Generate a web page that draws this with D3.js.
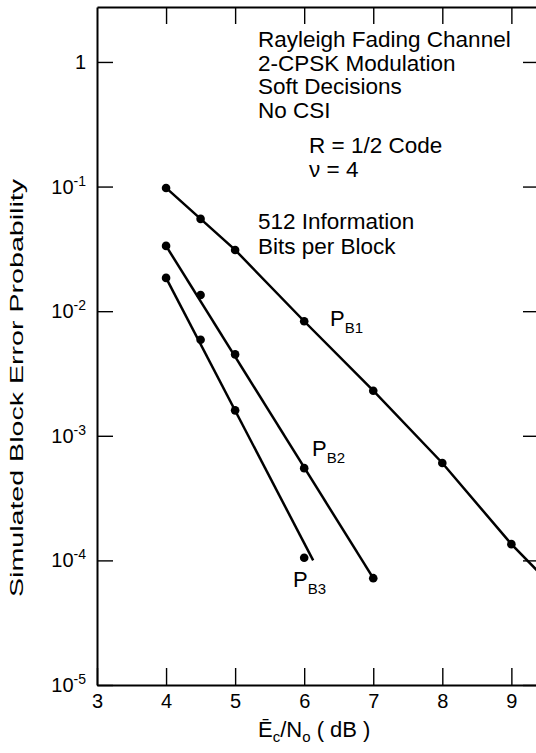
<!DOCTYPE html>
<html>
<head>
<meta charset="utf-8">
<script src="https://cdn.jsdelivr.net/npm/d3@7"></script>
<style>
  body { margin: 0; background: #fff; }
  svg { display: block; font-family: "Liberation Sans", Arial, sans-serif; }
</style>
</head>
<body>
<div id="chart"></div>
<script>
// values
const xTicks = [3, 4, 5, 6, 7, 8, 9];
const yTicks = [1, 1e-1, 1e-2, 1e-3, 1e-4, 1e-5];
const yTickExp = ['', '-1', '-2', '-3', '-4', '-5'];

const pb1X = [4, 4.5, 5, 6, 7, 8, 9];
const pb1Y = [0.0975, 0.055, 0.031, 0.0083, 0.0023, 6.05e-4, 1.35e-4];
const pb2X = [4, 4.5, 5, 6, 7];
const pb2Y = [0.0334, 0.0135, 0.0045, 5.5e-4, 7.2e-5];
const pb3X = [4, 4.5, 5, 6];
const pb3Y = [0.0185, 0.0059, 0.0016, 1.05e-4];

// drawn curve vertices (PB1 runs off the right edge, PB2/PB3 are straight fits)
const pb1LineX = [4, 4.5, 5, 6, 7, 8, 9, 9.4];
const pb1LineY = [0.0975, 0.055, 0.031, 0.0083, 0.0023, 6.05e-4, 1.35e-4, 8.0e-5];
const pb2LineX = [4, 7];
const pb2LineY = [0.0334, 7.2e-5];
const pb3LineX = [4, 6.13];
const pb3LineY = [0.0185, 1.0e-4];

const notes = ['Rayleigh Fading Channel', '2-CPSK Modulation', 'Soft Decisions', 'No CSI'];
const codeNotes = ['R = 1/2 Code', 'ν = 4'];
const blockNotes = ['512 Information', 'Bits per Block'];

const [w, h] = [536, 753];
const [pL, pR, pT, pB] = [97, 539, 7, 685];

const x = d3.scaleLinear().domain([3, 9.4]).range([pL, pR]);
const y = d3.scaleLog().domain([1e-5, Math.pow(10, 0.441)]).range([pB, pT]);

const svg = d3.select('#chart').append('svg')
  .attr('width', w).attr('height', h);

svg.append('clipPath').attr('id', 'plot')
  .append('rect').attr('x', pL).attr('y', pT)
  .attr('width', pR - pL).attr('height', pB - pT);

// frame + inward ticks
const axes = [
  [d3.axisLeft(y).tickValues(yTicks).tickSizeInner(-16), `translate(${pL},0)`],
  [d3.axisRight(y).tickValues(yTicks).tickSizeInner(-16), `translate(${pR},0)`],
  [d3.axisTop(x).tickValues(xTicks.slice(1)).tickSizeInner(-17), `translate(0,${pT})`],
  [d3.axisBottom(x).tickValues(xTicks).tickSizeInner(-17).tickFormat(d3.format('d')), `translate(0,${pB})`]
];
axes.forEach(([ax, tr], i) => {
  const g = svg.append('g').attr('transform', tr)
    .call(ax.tickSizeOuter(0).tickPadding(9));
  g.select('.domain').attr('stroke', '#000').attr('stroke-width', 2);
  g.selectAll('.tick line').attr('stroke', '#000').attr('stroke-width', 1.4);
  if (i === 3) {
    g.selectAll('.tick text').attr('font-size', 20).attr('fill', '#000')
      .attr('font-family', '"Liberation Sans", Arial, sans-serif');
  } else {
    g.selectAll('.tick text').remove();
  }
});

// y tick labels with exponents
yTicks.forEach((v, i) => {
  const t = svg.append('text')
    .attr('x', 86).attr('y', y(v) + 7)
    .attr('text-anchor', 'end').attr('font-size', 20);
  if (v === 1) {
    t.text('1');
  } else {
    t.append('tspan').text('10');
    t.append('tspan').attr('font-size', 14).attr('dy', -8).text(yTickExp[i]);
  }
});

// axis titles
const xt = svg.append('text').attr('x', 258).attr('y', 737).attr('font-size', 22);
xt.append('tspan').text('Ē');
xt.append('tspan').attr('font-size', 15).attr('dy', 5).text('c');
xt.append('tspan').attr('dy', -5).text('/N');
xt.append('tspan').attr('font-size', 15).attr('dy', 5).text('o');
xt.append('tspan').attr('dy', -5).text(' ( dB )');

svg.append('text')
  .attr('transform', 'translate(23,388) rotate(-90)')
  .attr('text-anchor', 'middle').attr('font-size', 19)
  .attr('textLength', 418).attr('lengthAdjust', 'spacingAndGlyphs')
  .text('Simulated Block Error Probability');

// curves
const line = d3.line().x(d => x(d[0])).y(d => y(d[1]));
const plot = svg.append('g').attr('clip-path', 'url(#plot)');
[[pb1LineX, pb1LineY], [pb2LineX, pb2LineY], [pb3LineX, pb3LineY]].forEach(([xs, ys]) => {
  plot.append('path')
    .datum(d3.zip(xs, ys))
    .attr('d', line)
    .attr('fill', 'none').attr('stroke', '#000').attr('stroke-width', 2.5);
});
[[pb1X, pb1Y], [pb2X, pb2Y], [pb3X, pb3Y]].forEach(([xs, ys]) => {
  plot.selectAll(null).data(d3.zip(xs, ys)).enter()
    .append('circle')
    .attr('cx', d => x(d[0])).attr('cy', d => y(d[1]))
    .attr('r', 4.3).attr('fill', '#000');
});

// curve labels P_B1, P_B2, P_B3
[['B1', 330, 326], ['B2', 312, 456], ['B3', 293, 587]].forEach(([sub, lx, ly]) => {
  const t = svg.append('text').attr('x', lx).attr('y', ly).attr('font-size', 22);
  t.append('tspan').text('P');
  t.append('tspan').attr('font-size', 15).attr('dy', 7).text(sub);
});

// annotation block
const note = (txt, nx, ny) => svg.append('text')
  .attr('x', nx).attr('y', ny).attr('font-size', 22.5).text(txt);
notes.forEach((t, i) => note(t, 258, 47 + i * 23.7));
codeNotes.forEach((t, i) => note(t, 309, 153 + i * 23.5));
blockNotes.forEach((t, i) => note(t, 258, 229 + i * 24.5));
</script>
</body>
</html>
